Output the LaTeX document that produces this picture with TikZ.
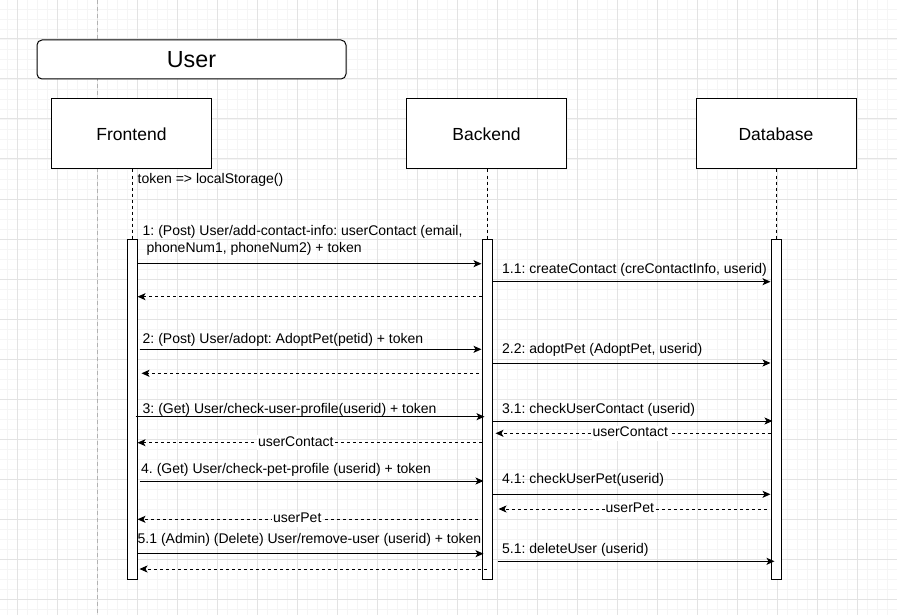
\documentclass[tikz,border=0pt]{standalone}
\usepackage{fontspec}
\setmainfont{Liberation Sans}
\usetikzlibrary{arrows.meta,positioning}
\frenchspacing

\begin{document}
\begin{tikzpicture}[x=1pt,y=-1pt]
    % 样式
    \tikzset{
        gridminor/.style={draw=black!4, line width=0.8pt},
        gridmajor/.style={draw=black!11, line width=1pt},
        pagebreak/.style={draw=black!30, line width=0.8pt, dash pattern=on 4pt off 3pt},
        head/.style={draw, fill=white, line width=1pt, rounded corners=5pt, minimum width=309pt, minimum height=39pt, font=\fontsize{23.3}{28}\selectfont},
        lifebox/.style={draw, fill=white, line width=1pt, minimum width=160pt, minimum height=70pt, font=\fontsize{17.5}{21}\selectfont},
        act/.style={draw, fill=white, line width=1pt, minimum width=10pt, minimum height=340pt, inner sep=0pt},
        life/.style={line width=1pt, dash pattern=on 3pt off 3pt},
        msg/.style={line width=1pt, -{Stealth[length=8pt,width=7pt,inset=2pt]}},
        reply/.style={msg, dash pattern=on 3pt off 3pt},
        lbl/.style={anchor=west, inner sep=0pt, text height=10pt, text depth=3pt, font=\fontsize{14}{16.6}\selectfont},
        rlbl/.style={fill=white, inner sep=1pt, text height=10pt, text depth=3pt, font=\fontsize{14}{16.6}\selectfont},
    }
    \useasboundingbox (0,0) rectangle (897,615);

    % 背景网格
    \foreach \x in {7,17,...,897} \draw[gridminor] (\x,0) -- (\x,615);
    \foreach \y in {9,19,...,615} \draw[gridminor] (0,\y) -- (897,\y);
    \foreach \x in {17,57,...,897} \draw[gridmajor] (\x,0) -- (\x,615);
    \foreach \y in {39,79,...,615} \draw[gridmajor] (0,\y) -- (897,\y);
    \draw[pagebreak] (97,0) -- (97,615);

    % 标题和参与者
    \node[head] (user) at (191.5,59.5) {User};
    \node[lifebox] (fe) at (131.5,134) {Frontend};
    \node[lifebox] (be) at (486.5,134) {Backend};
    \node[lifebox] (db) at (776,134) {Database};

    % 激活条
    \node[act] (fa) at (132,409) {};
    \node[act] (ba) at (487,409) {};
    \node[act] (da) at (776,409) {};

    % 生命线
    \draw[life] (fa.north |- fe.south) -- (fa.north);
    \draw[life] (ba.north |- be.south) -- (ba.north);
    \draw[life] (da.north |- db.south) -- (da.north);

    \node[lbl] (tok) at (137.5,180) {token => localStorage()};

    % 1: add-contact-info
    \node[lbl, anchor=north west, text height=, text depth=, align=left] (l1) at (142.5,225.5)
        {1: (Post) User/add-contact-info: userContact (email,\\\hspace*{3.9pt}phoneNum1, phoneNum2) + token};
    \draw[msg] (fa.east |- 0,263.7) -- (ba.west |- 0,263.7);
    \node[lbl] (l11) at (502,269.8) {1.1: createContact (creContactInfo, userid)};
    \draw[msg] (ba.east |- 0,281.7) -- (da.west |- 0,281.7);
    \draw[reply] (ba.west |- 0,296.7) -- (fa.east |- 0,296.7);

    % 2: adopt
    \node[lbl] (l2) at (142.5,339.5) {2: (Post) User/adopt: AdoptPet(petid) + token};
    \draw[msg] ([xshift=2pt]fa.east |- 0,349.3) -- (ba.west |- 0,349.3);
    \node[lbl] (l22) at (502,349.8) {2.2: adoptPet (AdoptPet, userid)};
    \draw[msg] (ba.east |- 0,363) -- (da.west |- 0,363);
    \draw[reply] ([xshift=-3pt]ba.west |- 0,373.3) -- ([xshift=4pt]fa.east |- 0,373.3);

    % 3: check-user-profile
    \node[lbl] (l3) at (142.5,409.8) {3: (Get) User/check-user-profile(userid) + token};
    \draw[msg] ([xshift=-2pt]fa.east |- 0,416.7) -- ([xshift=3pt]ba.west |- 0,416.7);
    \node[lbl] (l31) at (502,409.5) {3.1: checkUserContact (userid)};
    \draw[msg] (ba.east |- 0,421) -- ([xshift=2pt]da.west |- 0,421);
    \draw[reply] (da.west |- 0,433.3) -- ([xshift=3pt]ba.east |- 0,433.3)
        node[rlbl, pos=0.51] (r31) {userContact};
    \draw[reply] (ba.west |- 0,442.7) -- (fa.east |- 0,442.7)
        node[rlbl, pos=0.54] (r3) {userContact};

    % 4: check-pet-profile
    \node[lbl] (l4) at (141,469.5) {4. (Get) User/check-pet-profile (userid) + token};
    \draw[msg] ([xshift=2pt]fa.east |- 0,481) -- ([xshift=2pt]ba.west |- 0,481);
    \node[lbl] (l41) at (502,479.8) {4.1: checkUserPet(userid)};
    \draw[msg] (ba.east |- 0,494.3) -- (da.west |- 0,494.3);
    \draw[reply] ([xshift=-4pt]da.west |- 0,509) -- ([xshift=6pt]ba.east |- 0,509)
        node[rlbl, pos=0.51] (r41) {userPet};
    \draw[reply] ([xshift=-4pt]ba.west |- 0,519.3) -- (fa.east |- 0,519.3)
        node[rlbl, pos=0.53] (r4) {userPet};

    % 5: remove-user
    \node[lbl] (l5) at (137.5,539.8) {5.1 (Admin) (Delete) User/remove-user (userid) + token};
    \draw[msg] (fa.east |- 0,553.7) -- ([xshift=2pt]ba.west |- 0,553.7);
    \node[lbl] (l51) at (502,549.8) {5.1: deleteUser (userid)};
    \draw[msg] ([xshift=5pt]ba.east |- 0,561.3) -- ([xshift=4pt]da.west |- 0,561.3);
    \draw[reply] ([xshift=5pt]ba.west |- 0,569) -- ([xshift=2pt]fa.east |- 0,569);
\end{tikzpicture}
\end{document}
